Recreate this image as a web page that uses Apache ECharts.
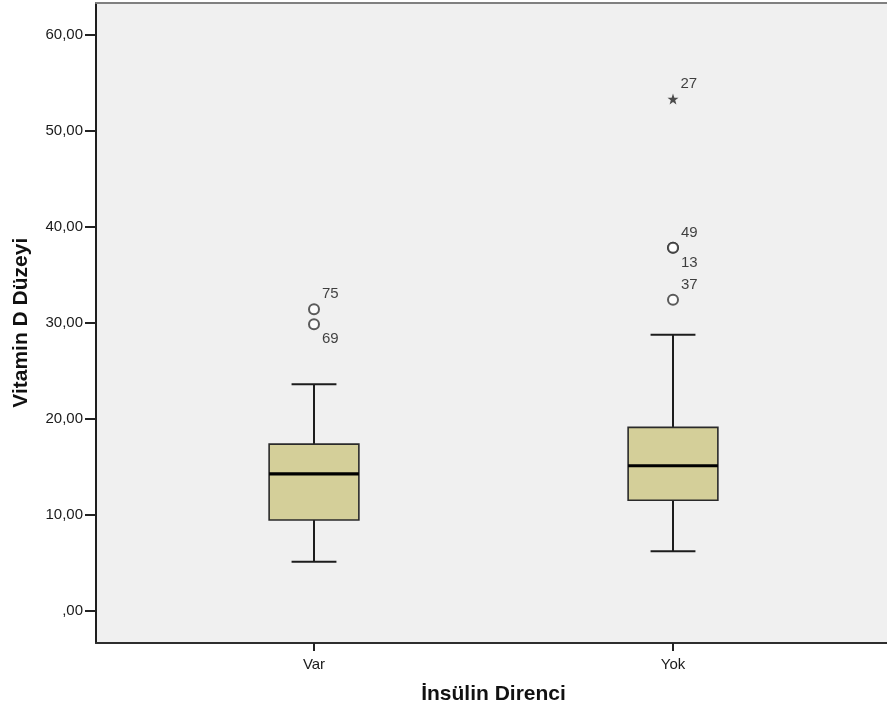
<!DOCTYPE html>
<html>
<head>
<meta charset="utf-8">
<script src="https://cdn.jsdelivr.net/npm/echarts@6/dist/echarts.min.js"></script>
<style>
html, body { margin: 0; padding: 0; background: #fff; }
#box_chart { width: 887px; height: 716px; }
</style>
</head>
<body>
<div id="box_chart"></div>
<script>
// kutu grafiği verileri
var groups = ['Var', 'Yok'];
var whiskerLow = [5.1, 6.2];
var quart1 = [9.45, 11.5];
var medians = [14.25, 15.1];
var quart3 = [17.35, 19.1];
var whiskerHigh = [23.6, 28.75];

// uç değerler (o) ve aşırı uç değerler (*), vaka numaraları
var outGroup = ['Var', 'Var', 'Yok', 'Yok', 'Yok'];
var outValue = [31.4, 29.85, 37.8, 37.8, 32.4];
var outCase = ['75', '69', '49', '13', '37'];
var outBelow = [false, true, false, true, false];
var extGroup = ['Yok'];
var extValue = [53.3];
var extCase = ['27'];

var yTicks = [0, 10, 20, 30, 40, 50, 60];

var boxData = groups.map(function (g, i) {
    return [i, whiskerLow[i], quart1[i], medians[i], quart3[i], whiskerHigh[i]];
});
var outData = outValue.map(function (v, i) {
    return {
        value: [outGroup[i], v],
        name: outCase[i],
        label: { offset: [0, outBelow[i] ? 15 : -15] }
    };
});
var extData = extValue.map(function (v, i) {
    return { value: [extGroup[i], v], name: extCase[i], label: { offset: [0, -15] } };
});

var caseLabel = {
    show: true, position: 'right', distance: 2,
    formatter: '{b}', fontSize: 15, color: '#111', fontFamily: 'Liberation Sans'
};

function drawBox(params, api) {
    var x = api.value(0);
    var lo = api.coord([x, api.value(1)]);
    var q1 = api.coord([x, api.value(2)]);
    var md = api.coord([x, api.value(3)]);
    var q3 = api.coord([x, api.value(4)]);
    var hi = api.coord([x, api.value(5)]);
    var bw = api.size([1, 0])[0] * 0.25;
    var cx = lo[0];
    var line = { stroke: '#1c1c1c', lineWidth: 2 };
    return {
        type: 'group',
        children: [
            { type: 'line', shape: { x1: cx, y1: hi[1], x2: cx, y2: q3[1] }, style: line },
            { type: 'line', shape: { x1: cx, y1: q1[1], x2: cx, y2: lo[1] }, style: line },
            { type: 'line', shape: { x1: cx - bw / 4, y1: hi[1], x2: cx + bw / 4, y2: hi[1] }, style: line },
            { type: 'line', shape: { x1: cx - bw / 4, y1: lo[1], x2: cx + bw / 4, y2: lo[1] }, style: line },
            { type: 'rect', shape: { x: cx - bw / 2, y: q3[1], width: bw, height: q1[1] - q3[1] },
              style: { fill: '#d4cf99', stroke: '#2a2a2a', lineWidth: 1.6 } },
            { type: 'line', shape: { x1: cx - bw / 2, y1: md[1], x2: cx + bw / 2, y2: md[1] },
              style: { stroke: '#000', lineWidth: 3.2 } }
        ]
    };
}

var chart = echarts.init(document.getElementById('box_chart'));
chart.setOption({
    animation: false,
    textStyle: { fontFamily: 'Liberation Sans' },
    grid: [
        // çerçeve
        { left: 96, top: 3, right: 0, bottom: 73, show: true, backgroundColor: '#f0f0f0', borderWidth: 0 },
        // veri alanı
        { left: 134.5, top: 34.7, right: 34.5, bottom: 105.3 },
        // kategori ekseni
        { left: 134.5, top: 3, right: 34.5, bottom: 73 }
    ],
    xAxis: [
        { gridIndex: 0, type: 'value', min: 0, max: 1,
          axisLine: { show: true, lineStyle: { color: '#2e2e2e', width: 2 } },
          axisTick: { show: false }, axisLabel: { show: false }, splitLine: { show: false } },
        { gridIndex: 1, type: 'category', data: groups, show: false },
        { gridIndex: 2, type: 'category', data: groups,
          axisLine: { show: false },
          axisTick: { show: true, alignWithLabel: true, length: 8, lineStyle: { color: '#222', width: 2 } },
          axisLabel: { margin: 14, fontSize: 15, color: '#1a1a1a' },
          name: 'İnsülin Direnci', nameLocation: 'middle', nameGap: 41,
          nameTextStyle: { fontSize: 21, fontWeight: 'bold', color: '#111' } },
        // üst kenar
        { gridIndex: 0, type: 'value', min: 0, max: 1, position: 'top',
          axisLine: { show: true, lineStyle: { color: '#808080', width: 2 } },
          axisTick: { show: false }, axisLabel: { show: false }, splitLine: { show: false } }
    ],
    yAxis: [
        { gridIndex: 0, type: 'value', min: 0, max: 1,
          axisLine: { show: true, lineStyle: { color: '#1e1e1e', width: 2 } },
          axisTick: { show: false }, axisLabel: { show: false }, splitLine: { show: false } },
        { gridIndex: 1, type: 'value', offset: 38.5,
          min: yTicks[0], max: yTicks[yTicks.length - 1], interval: yTicks[1] - yTicks[0],
          axisLine: { show: false },
          axisTick: { show: true, length: 11, lineStyle: { color: '#222', width: 2 } },
          axisLabel: { margin: 13, fontSize: 15, color: '#1a1a1a',
              formatter: function (v) { return v === 0 ? ',00' : v.toFixed(2).replace('.', ','); } },
          splitLine: { show: false },
          name: 'Vitamin D Düzeyi', nameLocation: 'middle', nameGap: 64,
          nameTextStyle: { fontSize: 21, fontWeight: 'bold', color: '#111' } },
        { gridIndex: 2, type: 'value', min: 0, max: 1, show: false }
    ],
    series: [
        { type: 'custom', xAxisIndex: 1, yAxisIndex: 1, data: boxData, renderItem: drawBox },
        { type: 'scatter', xAxisIndex: 1, yAxisIndex: 1, data: outData,
          symbol: 'emptyCircle', symbolSize: 10,
          itemStyle: { color: '#333', borderColor: '#333', borderWidth: 1.3 },
          label: caseLabel },
        { type: 'scatter', xAxisIndex: 1, yAxisIndex: 1, data: extData,
          symbol: 'path://M0,-10L2.35,-3.24L9.51,-3.09L3.8,1.24L5.88,8.09L0,4L-5.88,8.09L-3.8,1.24L-9.51,-3.09L-2.35,-3.24Z',
          symbolSize: 11, itemStyle: { color: '#222' },
          label: caseLabel }
    ]
});
</script>
</body>
</html>
